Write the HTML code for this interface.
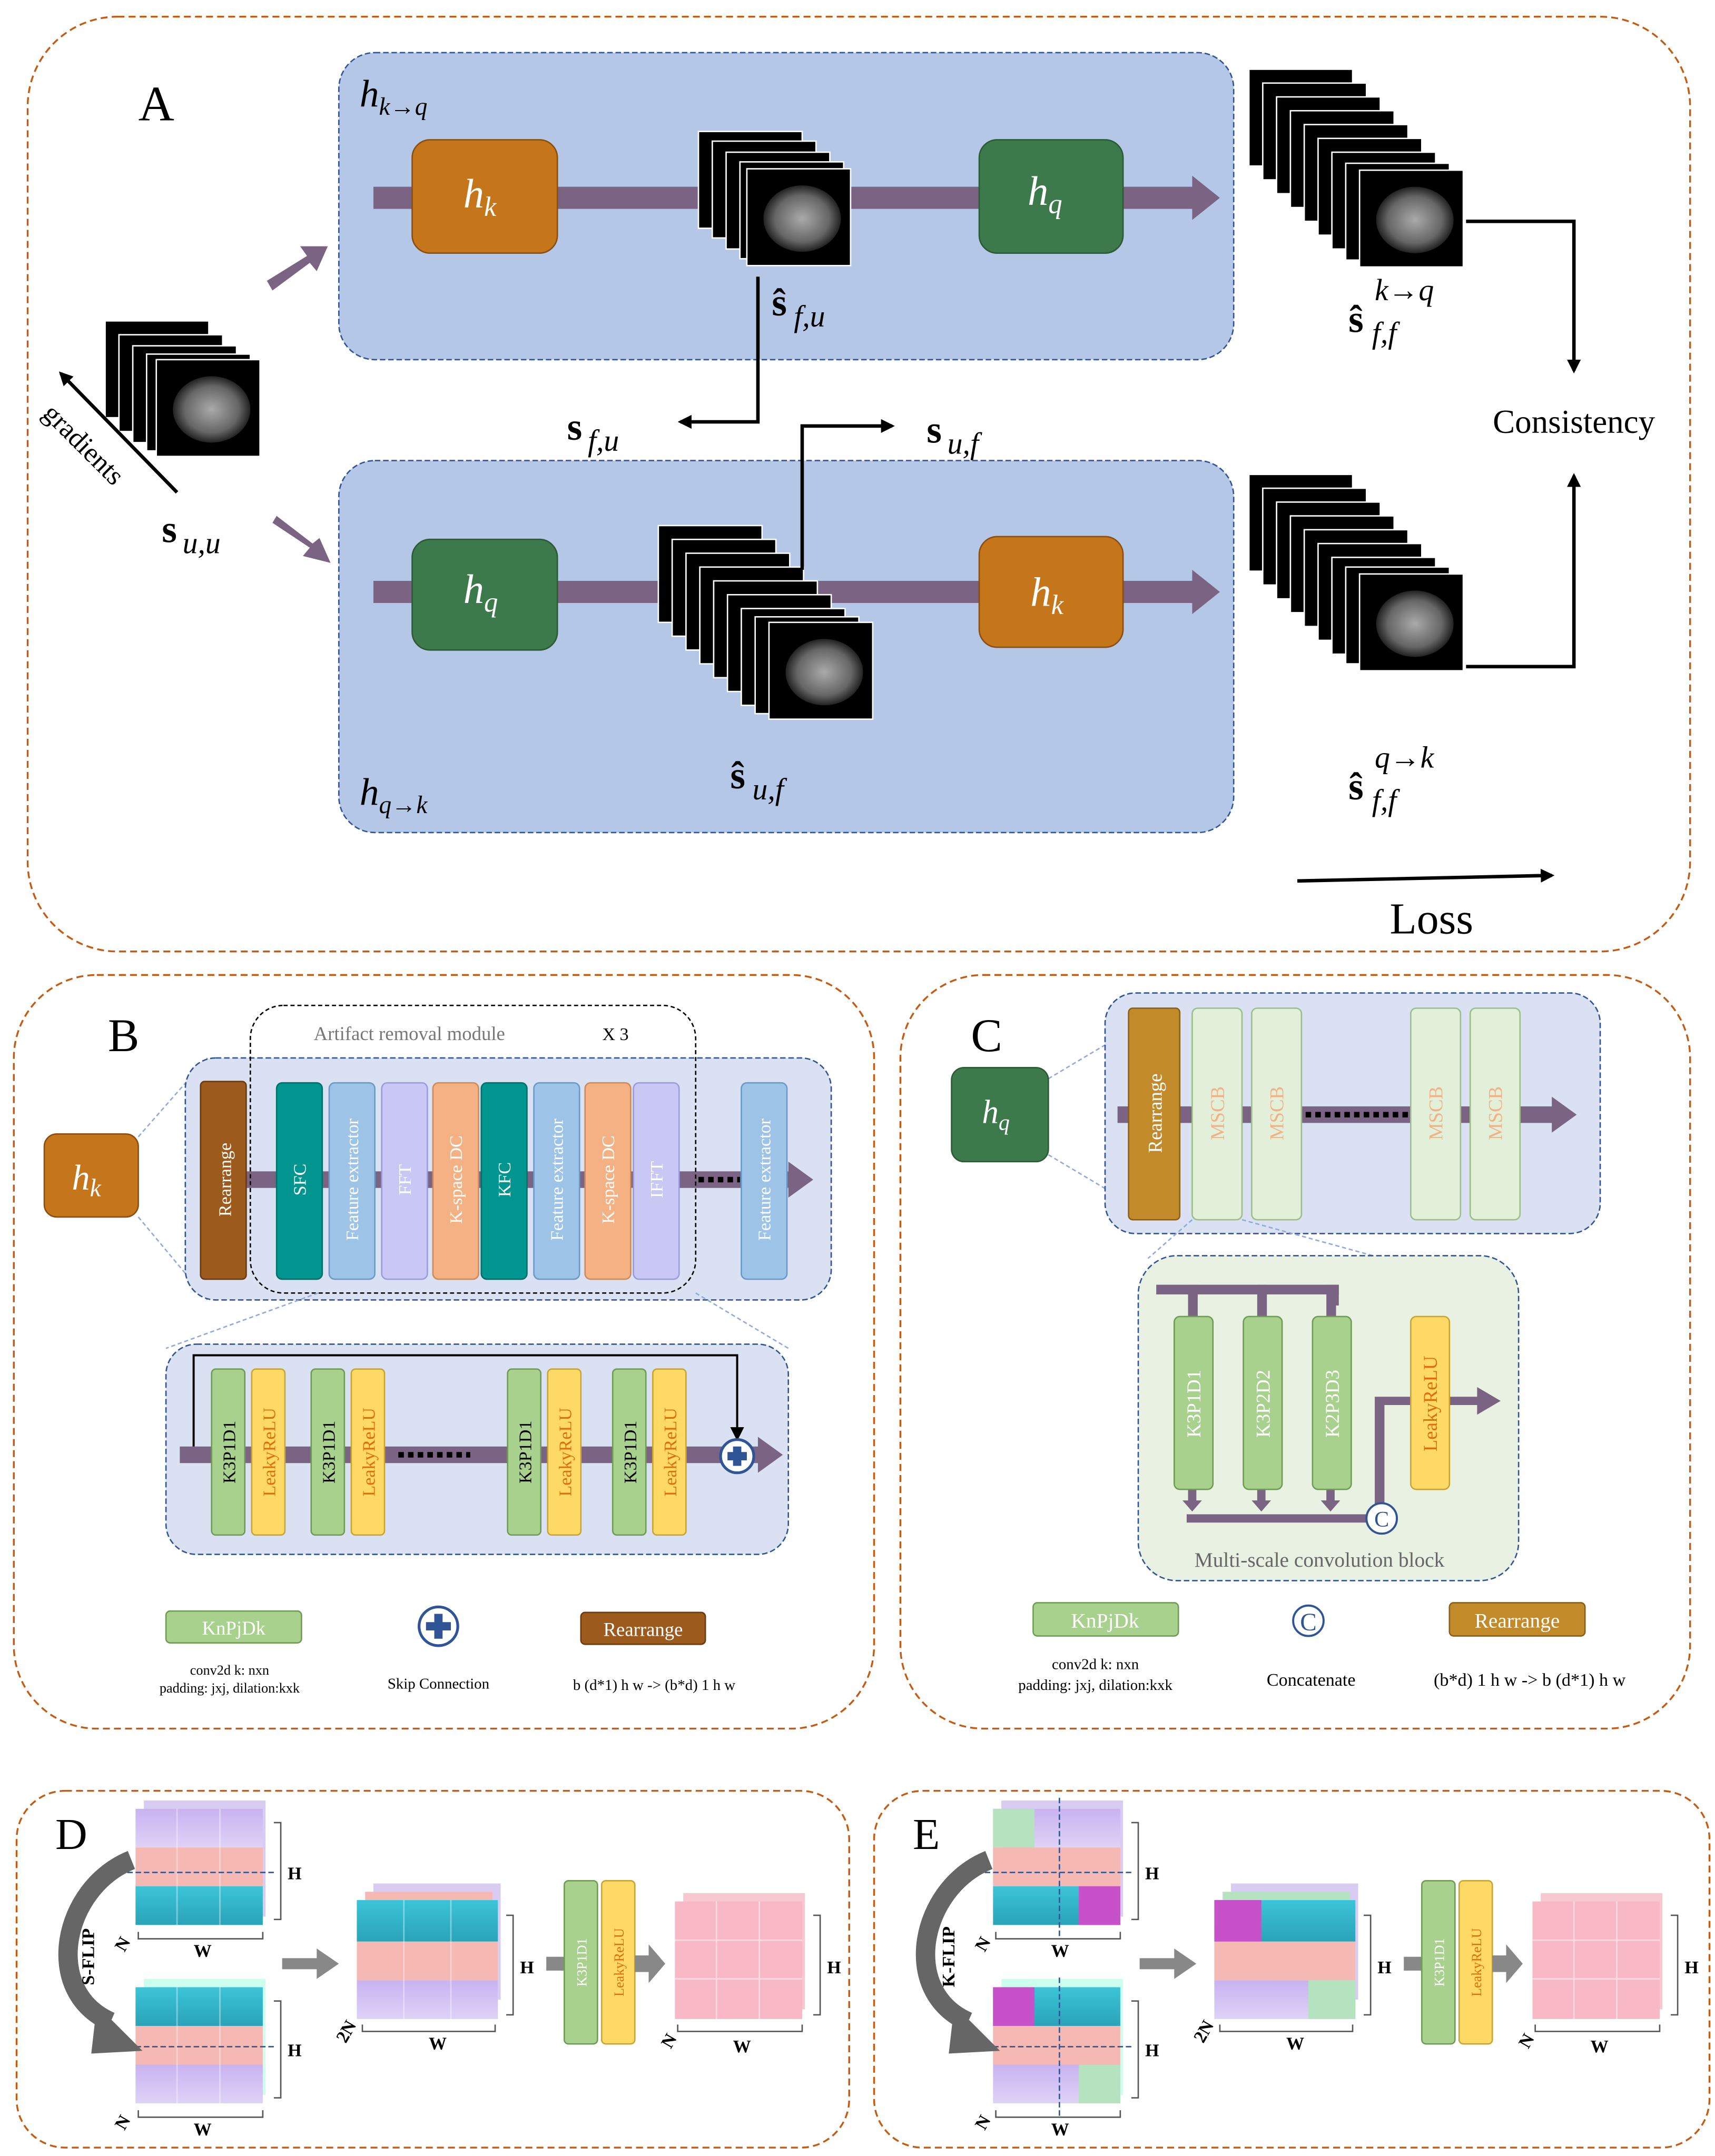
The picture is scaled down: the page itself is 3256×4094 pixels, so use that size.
<!DOCTYPE html>
<html><head><meta charset="utf-8"><style>
html,body{margin:0;padding:0;background:#fff}
svg{display:block}
text{font-family:"Liberation Serif",serif}
.w{fill:#fff}
</style></head><body>
<svg width="3256" height="4094" viewBox="0 0 1240 1559" xmlns="http://www.w3.org/2000/svg">
<defs>
<marker id="ah" markerWidth="10" markerHeight="10" refX="8" refY="5" orient="auto" markerUnits="userSpaceOnUse"><path d="M0,0 L10,5 L0,10 z" fill="#000"/></marker>
<radialGradient id="brain"><stop offset="0" stop-color="#aaa"/><stop offset="0.7" stop-color="#666"/><stop offset="1" stop-color="#222"/></radialGradient>
<g id="br"><rect width="75" height="70" fill="#000" stroke="#fff" stroke-width="1"/><ellipse cx="40" cy="36" rx="28" ry="24" fill="url(#brain)"/></g>
<linearGradient id="pu" x1="0" y1="0" x2="0" y2="1"><stop offset="0" stop-color="#c9b3f0"/><stop offset="1" stop-color="#ddd2f7"/></linearGradient>
<linearGradient id="tl" x1="0" y1="0" x2="0" y2="1"><stop offset="0" stop-color="#3cc4d8"/><stop offset="1" stop-color="#2aa3b8"/></linearGradient>
</defs>

<!-- Panel A -->
<rect x="20" y="12" width="1202" height="676" rx="65" fill="none" stroke="#c55a11" stroke-width="1.3" stroke-dasharray="5,3"/>
<text x="100" y="87" font-size="36">A</text>
<rect x="245" y="38" width="647" height="222" rx="26" fill="#b4c7e7" stroke="#2f5597" stroke-dasharray="4,2"/>
<text x="260" y="77" font-size="28" font-style="italic">h<tspan font-size="18" dy="6">k→q</tspan></text>
<path d="M270,135 H862 V127 L882,143 L862,159 V151 H270 Z" fill="#7b6483"/>
<rect x="298" y="101" width="105" height="82" rx="13" fill="#c5761b" stroke="#8a4f10"/>
<text x="335" y="150" font-size="30" font-style="italic" class="w">h<tspan font-size="20" dy="6">k</tspan></text>
<rect x="708" y="101" width="104" height="82" rx="13" fill="#3d7a4b" stroke="#2b5a35"/>
<text x="743" y="148" font-size="30" font-style="italic" class="w">h<tspan font-size="20" dy="6">q</tspan></text>
<use href="#br" x="505" y="95"/><use href="#br" x="515" y="102"/><use href="#br" x="525" y="110"/><use href="#br" x="535" y="117"/><use href="#br" x="540" y="122"/>
<text x="558" y="228" font-size="28" font-weight="bold">ŝ</text><text x="574" y="236" font-size="22" font-style="italic">f,u</text>
<use href="#br" x="903" y="50"/><use href="#br" x="913" y="60"/><use href="#br" x="923" y="70"/><use href="#br" x="933" y="80"/><use href="#br" x="943" y="90"/><use href="#br" x="953" y="100"/><use href="#br" x="963" y="110"/><use href="#br" x="973" y="118"/><use href="#br" x="983" y="123"/>
<text x="975" y="240" font-size="28" font-weight="bold">ŝ</text><text x="992" y="248" font-size="22" font-style="italic">f,f</text><text x="994" y="217" font-size="22" font-style="italic">k→q</text>

<rect x="245" y="333" width="647" height="269" rx="26" fill="#b4c7e7" stroke="#2f5597" stroke-dasharray="4,2"/>
<text x="260" y="582" font-size="28" font-style="italic">h<tspan font-size="18" dy="6">q→k</tspan></text>
<path d="M270,420 H862 V412 L882,428 L862,444 V436 H270 Z" fill="#7b6483"/>
<rect x="298" y="390" width="105" height="80" rx="13" fill="#3d7a4b" stroke="#2b5a35"/>
<text x="335" y="436" font-size="30" font-style="italic" class="w">h<tspan font-size="20" dy="6">q</tspan></text>
<rect x="708" y="388" width="104" height="80" rx="13" fill="#c5761b" stroke="#8a4f10"/>
<text x="745" y="438" font-size="30" font-style="italic" class="w">h<tspan font-size="20" dy="6">k</tspan></text>
<use href="#br" x="476" y="380"/><use href="#br" x="486" y="390"/><use href="#br" x="496" y="400"/><use href="#br" x="506" y="410"/><use href="#br" x="516" y="420"/><use href="#br" x="526" y="430"/><use href="#br" x="536" y="440"/><use href="#br" x="546" y="446"/><use href="#br" x="556" y="450"/>
<text x="528" y="570" font-size="28" font-weight="bold">ŝ</text><text x="544" y="578" font-size="22" font-style="italic">u,f</text>
<use href="#br" x="903" y="343"/><use href="#br" x="913" y="353"/><use href="#br" x="923" y="363"/><use href="#br" x="933" y="373"/><use href="#br" x="943" y="383"/><use href="#br" x="953" y="393"/><use href="#br" x="963" y="403"/><use href="#br" x="973" y="410"/><use href="#br" x="983" y="415"/>
<text x="975" y="578" font-size="28" font-weight="bold">ŝ</text><text x="992" y="586" font-size="22" font-style="italic">f,f</text><text x="994" y="555" font-size="22" font-style="italic">q→k</text>

<use href="#br" x="76" y="232"/><use href="#br" x="86" y="242"/><use href="#br" x="96" y="250"/><use href="#br" x="106" y="256"/><use href="#br" x="113" y="260"/>
<line x1="128" y1="356" x2="44" y2="270" stroke="#000" stroke-width="2.5" marker-end="url(#ah)"/>
<text x="30" y="300" font-size="20" transform="rotate(45 30 300)">gradients</text>
<text x="117" y="392" font-size="28" font-weight="bold">s</text><text x="132" y="400" font-size="22" font-style="italic">u,u</text>
<path d="M193,203 L222,185 L217,178 L237,178 L229,196 L224,190 L197,210 Z" fill="#7b6483"/>
<path d="M197,378 L224,396 L219,402 L239,407 L231,389 L226,393 L200,373 Z" fill="#7b6483"/>
<polyline points="548,200 548,305 492,305" fill="none" stroke="#000" stroke-width="2.5" marker-end="url(#ah)"/>
<text x="410" y="318" font-size="28" font-weight="bold">s</text><text x="425" y="326" font-size="22" font-style="italic">f,u</text>
<polyline points="580,412 580,308 645,308" fill="none" stroke="#000" stroke-width="2.5" marker-end="url(#ah)"/>
<text x="670" y="320" font-size="28" font-weight="bold">s</text><text x="685" y="328" font-size="22" font-style="italic">u,f</text>
<polyline points="1060,160 1138,160 1138,268" fill="none" stroke="#000" stroke-width="2.5" marker-end="url(#ah)"/>
<polyline points="1060,482 1138,482 1138,344" fill="none" stroke="#000" stroke-width="2.5" marker-end="url(#ah)"/>
<text x="1138" y="313" font-size="24" text-anchor="middle">Consistency</text>
<line x1="938" y1="637" x2="1122" y2="633" stroke="#000" stroke-width="2.5" marker-end="url(#ah)"/>
<text x="1035" y="675" font-size="32" text-anchor="middle">Loss</text>

<!-- Panel B -->
<rect x="10" y="705" width="622" height="545" rx="60" fill="none" stroke="#c55a11" stroke-width="1.3" stroke-dasharray="5,3"/>
<text x="78" y="760" font-size="34">B</text>
<line x1="100" y1="822" x2="150" y2="765" stroke="#8faadc" stroke-dasharray="3,2"/>
<line x1="100" y1="880" x2="150" y2="940" stroke="#8faadc" stroke-dasharray="3,2"/>
<rect x="32" y="820" width="68" height="60" rx="9" fill="#c5761b" stroke="#8a4f10"/>
<text x="52" y="860" font-size="26" font-style="italic" class="w">h<tspan font-size="18" dy="5">k</tspan></text>
<rect x="134" y="765" width="467" height="175" rx="22" fill="#d9e1f2" stroke="#2f5597" stroke-dasharray="4,2"/>
<path d="M178,847 H570 V840 L588,853 L570,866 V859 H178 Z" fill="#7b6483"/>
<line x1="505" y1="853" x2="535" y2="853" stroke="#000" stroke-width="4" stroke-dasharray="4,3"/>
<rect x="181" y="727" width="322" height="208" rx="24" fill="none" stroke="#000" stroke-dasharray="3,2"/>
<text x="296" y="752" font-size="14" fill="#777" text-anchor="middle">Artifact removal module</text>
<text x="445" y="752" font-size="13" text-anchor="middle">X 3</text>
<g font-size="13">
<rect x="145" y="782" width="33" height="143" rx="3" fill="#9c5a1c" stroke="#6b3a10"/><text transform="translate(167,853) rotate(-90)" text-anchor="middle" class="w">Rearrange</text>
<rect x="200" y="783" width="33" height="142" rx="4" fill="#00968f" stroke="#00706a"/><text transform="translate(221,853) rotate(-90)" text-anchor="middle" class="w">SFC</text>
<rect x="238" y="783" width="33" height="142" rx="4" fill="#9dc3e6" stroke="#6a9bc8"/><text transform="translate(259,853) rotate(-90)" text-anchor="middle" class="w">Feature extractor</text>
<rect x="276" y="783" width="33" height="142" rx="4" fill="#c9c8f5" stroke="#9c9ae0"/><text transform="translate(297,853) rotate(-90)" text-anchor="middle" class="w">FFT</text>
<rect x="313" y="783" width="33" height="142" rx="4" fill="#f4b183" stroke="#d08a58"/><text transform="translate(334,853) rotate(-90)" text-anchor="middle" class="w">K-space DC</text>
<rect x="348" y="783" width="33" height="142" rx="4" fill="#00968f" stroke="#00706a"/><text transform="translate(369,853) rotate(-90)" text-anchor="middle" class="w">KFC</text>
<rect x="386" y="783" width="33" height="142" rx="4" fill="#9dc3e6" stroke="#6a9bc8"/><text transform="translate(407,853) rotate(-90)" text-anchor="middle" class="w">Feature extractor</text>
<rect x="423" y="783" width="33" height="142" rx="4" fill="#f4b183" stroke="#d08a58"/><text transform="translate(444,853) rotate(-90)" text-anchor="middle" class="w">K-space DC</text>
<rect x="458" y="783" width="33" height="142" rx="4" fill="#c9c8f5" stroke="#9c9ae0"/><text transform="translate(479,853) rotate(-90)" text-anchor="middle" class="w">IFFT</text>
<rect x="536" y="783" width="33" height="142" rx="4" fill="#9dc3e6" stroke="#6a9bc8"/><text transform="translate(557,853) rotate(-90)" text-anchor="middle" class="w">Feature extractor</text>
</g>
<line x1="230" y1="935" x2="120" y2="975" stroke="#8faadc" stroke-dasharray="3,2"/>
<line x1="503" y1="935" x2="570" y2="975" stroke="#8faadc" stroke-dasharray="3,2"/>
<rect x="120" y="972" width="450" height="152" rx="22" fill="#d9e1f2" stroke="#2f5597" stroke-dasharray="4,2"/>
<path d="M130,1046 H548 V1039 L566,1052 L548,1065 V1058 H130 Z" fill="#7b6483"/>
<line x1="288" y1="1052" x2="340" y2="1052" stroke="#000" stroke-width="4" stroke-dasharray="4,3"/>
<polyline points="140,1046 140,980 533,980 533,1040" fill="none" stroke="#000" stroke-width="1.5" marker-end="url(#ah)"/>
<g font-size="13">
<rect x="153" y="990" width="24" height="120" rx="3" fill="#a9d18e" stroke="#6f9c55"/><text transform="translate(170,1050) rotate(-90)" text-anchor="middle">K3P1D1</text>
<rect x="182" y="990" width="24" height="120" rx="3" fill="#ffd966" stroke="#c9a530"/><text transform="translate(199,1050) rotate(-90)" text-anchor="middle" fill="#e36c0a">LeakyReLU</text>
<rect x="225" y="990" width="24" height="120" rx="3" fill="#a9d18e" stroke="#6f9c55"/><text transform="translate(242,1050) rotate(-90)" text-anchor="middle">K3P1D1</text>
<rect x="254" y="990" width="24" height="120" rx="3" fill="#ffd966" stroke="#c9a530"/><text transform="translate(271,1050) rotate(-90)" text-anchor="middle" fill="#e36c0a">LeakyReLU</text>
<rect x="367" y="990" width="24" height="120" rx="3" fill="#a9d18e" stroke="#6f9c55"/><text transform="translate(384,1050) rotate(-90)" text-anchor="middle">K3P1D1</text>
<rect x="396" y="990" width="24" height="120" rx="3" fill="#ffd966" stroke="#c9a530"/><text transform="translate(413,1050) rotate(-90)" text-anchor="middle" fill="#e36c0a">LeakyReLU</text>
<rect x="443" y="990" width="24" height="120" rx="3" fill="#a9d18e" stroke="#6f9c55"/><text transform="translate(460,1050) rotate(-90)" text-anchor="middle">K3P1D1</text>
<rect x="472" y="990" width="24" height="120" rx="3" fill="#ffd966" stroke="#c9a530"/><text transform="translate(489,1050) rotate(-90)" text-anchor="middle" fill="#e36c0a">LeakyReLU</text>
</g>
<circle cx="533" cy="1053" r="12" fill="#fff" stroke="#2f5597" stroke-width="2"/>
<path d="M526,1050 h4 v-4 h6 v4 h4 v6 h-4 v4 h-6 v-4 h-4 z" fill="#2f5597"/>
<rect x="120" y="1165" width="98" height="23" rx="3" fill="#a9d18e" stroke="#6f9c55"/>
<text x="169" y="1182" font-size="14" text-anchor="middle" class="w">KnPjDk</text>
<text x="166" y="1211" font-size="10" text-anchor="middle">conv2d k: nxn</text>
<text x="166" y="1224" font-size="10" text-anchor="middle">padding: jxj, dilation:kxk</text>
<circle cx="317" cy="1176" r="14" fill="#fff" stroke="#2f5597" stroke-width="2"/>
<path d="M308,1173 h6 v-6 h6 v6 h6 v6 h-6 v6 h-6 v-6 h-6 z" fill="#2f5597"/>
<text x="317" y="1221" font-size="11" text-anchor="middle">Skip Connection</text>
<rect x="420" y="1166" width="90" height="23" rx="3" fill="#9c5a1c" stroke="#6b3a10"/>
<text x="465" y="1183" font-size="14" text-anchor="middle" class="w">Rearrange</text>
<text x="473" y="1222" font-size="11" text-anchor="middle">b (d*1) h w -&gt; (b*d) 1 h w</text>

<!-- Panel C -->
<rect x="651" y="705" width="571" height="545" rx="60" fill="none" stroke="#c55a11" stroke-width="1.3" stroke-dasharray="5,3"/>
<text x="702" y="760" font-size="34">C</text>
<line x1="758" y1="780" x2="800" y2="755" stroke="#8faadc" stroke-dasharray="3,2"/>
<line x1="758" y1="835" x2="800" y2="860" stroke="#8faadc" stroke-dasharray="3,2"/>
<rect x="688" y="772" width="70" height="68" rx="9" fill="#3d7a4b" stroke="#2b5a35"/>
<text x="710" y="812" font-size="24" font-style="italic" class="w">h<tspan font-size="16" dy="5">q</tspan></text>
<rect x="799" y="718" width="358" height="174" rx="22" fill="#d9e1f2" stroke="#2f5597" stroke-dasharray="4,2"/>
<path d="M808,800 H1122 V793 L1140,806 L1122,819 V812 H808 Z" fill="#7b6483"/>
<line x1="944" y1="806" x2="1018" y2="806" stroke="#000" stroke-width="4" stroke-dasharray="4,3"/>
<g font-size="14">
<rect x="816" y="729" width="37" height="153" rx="3" fill="#c38a2a" stroke="#8a6018"/><text transform="translate(840,805) rotate(-90)" text-anchor="middle" class="w">Rearrange</text>
<rect x="862" y="729" width="36" height="153" rx="4" fill="#e2efd9" stroke="#9cbf87"/><text transform="translate(885,805) rotate(-90)" text-anchor="middle" fill="#f4b183">MSCB</text>
<rect x="905" y="729" width="36" height="153" rx="4" fill="#e2efd9" stroke="#9cbf87"/><text transform="translate(928,805) rotate(-90)" text-anchor="middle" fill="#f4b183">MSCB</text>
<rect x="1020" y="729" width="36" height="153" rx="4" fill="#e2efd9" stroke="#9cbf87"/><text transform="translate(1043,805) rotate(-90)" text-anchor="middle" fill="#f4b183">MSCB</text>
<rect x="1063" y="729" width="36" height="153" rx="4" fill="#e2efd9" stroke="#9cbf87"/><text transform="translate(1086,805) rotate(-90)" text-anchor="middle" fill="#f4b183">MSCB</text>
</g>
<line x1="862" y1="882" x2="830" y2="910" stroke="#8faadc" stroke-dasharray="3,2"/>
<line x1="898" y1="882" x2="1000" y2="910" stroke="#8faadc" stroke-dasharray="3,2"/>
<rect x="823" y="908" width="275" height="235" rx="28" fill="#e9f1e2" stroke="#2f5597" stroke-dasharray="4,2"/>
<g fill="#7b6483">
<rect x="836" y="929" width="132" height="7"/>
<rect x="859" y="929" width="7" height="25"/><rect x="909" y="929" width="7" height="25"/><rect x="959" y="929" width="7" height="25"/>
<rect x="961" y="929" width="7" height="15"/>
<rect x="859" y="1075" width="6" height="12"/><path d="M855,1085 h14 l-7,8 z"/>
<rect x="909" y="1075" width="6" height="12"/><path d="M905,1085 h14 l-7,8 z"/>
<rect x="959" y="1075" width="6" height="12"/><path d="M955,1085 h14 l-7,8 z"/>
<rect x="858" y="1095" width="132" height="6"/>
<path d="M994,1098 V1010 H1068 V1003 L1085,1013 L1068,1023 V1016 H1001 V1098 Z"/>
</g>
<g font-size="14">
<rect x="849" y="952" width="28" height="125" rx="4" fill="#a9d18e" stroke="#6f9c55"/><text transform="translate(868,1015) rotate(-90)" text-anchor="middle" class="w">K3P1D1</text>
<rect x="899" y="952" width="28" height="125" rx="4" fill="#a9d18e" stroke="#6f9c55"/><text transform="translate(918,1015) rotate(-90)" text-anchor="middle" class="w">K3P2D2</text>
<rect x="949" y="952" width="28" height="125" rx="4" fill="#a9d18e" stroke="#6f9c55"/><text transform="translate(968,1015) rotate(-90)" text-anchor="middle" class="w">K2P3D3</text>
<rect x="1020" y="952" width="28" height="125" rx="4" fill="#ffd966" stroke="#c9a530"/><text transform="translate(1039,1015) rotate(-90)" text-anchor="middle" fill="#e36c0a">LeakyReLU</text>
</g>
<circle cx="999" cy="1098" r="11" fill="#fff" stroke="#2f5597" stroke-width="1.5"/>
<text x="999" y="1104" font-size="16" text-anchor="middle" fill="#2f5597" font-family="Liberation Sans">C</text>
<text x="954" y="1133" font-size="15" text-anchor="middle" fill="#666">Multi-scale convolution block</text>
<rect x="747" y="1159" width="105" height="24" rx="3" fill="#a9d18e" stroke="#6f9c55"/>
<text x="799" y="1177" font-size="15" text-anchor="middle" class="w">KnPjDk</text>
<text x="792" y="1207" font-size="11" text-anchor="middle">conv2d k: nxn</text>
<text x="792" y="1222" font-size="11" text-anchor="middle">padding: jxj, dilation:kxk</text>
<circle cx="946" cy="1172" r="11" fill="#fff" stroke="#2f5597" stroke-width="1.5"/>
<text x="946" y="1179" font-size="18" text-anchor="middle" fill="#2f5597" font-family="Liberation Sans">C</text>
<text x="948" y="1219" font-size="13" text-anchor="middle">Concatenate</text>
<rect x="1048" y="1159" width="98" height="24" rx="3" fill="#c38a2a" stroke="#8a6018"/>
<text x="1097" y="1177" font-size="15" text-anchor="middle" class="w">Rearrange</text>
<text x="1106" y="1219" font-size="13" text-anchor="middle">(b*d) 1 h w -&gt; b (d*1) h w</text>

<!-- Panel D -->
<rect x="12" y="1295" width="602" height="258" rx="35" fill="none" stroke="#c55a11" stroke-width="1.3" stroke-dasharray="5,3"/>
<text x="40" y="1337" font-size="32">D</text>
<g>
<rect x="104" y="1302" width="88" height="84" fill="#d8ccf2"/>
<rect x="98" y="1308" width="92" height="28" fill="url(#pu)"/>
<rect x="98" y="1336" width="92" height="28" fill="#f6b8b2"/>
<rect x="98" y="1364" width="92" height="28" fill="url(#tl)"/>
<path d="M128,1308 V1392 M159,1308 V1392" stroke="#fff" stroke-opacity="0.4"/>
<line x1="80" y1="1354" x2="200" y2="1354" stroke="#2f5597" stroke-dasharray="4,2"/>
</g>
<g>
<rect x="104" y="1431" width="88" height="84" fill="#cfe"/>
<rect x="98" y="1437" width="92" height="28" fill="url(#tl)"/>
<rect x="98" y="1465" width="92" height="28" fill="#f6b8b2"/>
<rect x="98" y="1493" width="92" height="28" fill="url(#pu)"/>
<path d="M128,1437 V1521 M159,1437 V1521" stroke="#fff" stroke-opacity="0.4"/>
<line x1="80" y1="1480" x2="200" y2="1480" stroke="#2f5597" stroke-dasharray="4,2"/>
</g>
<g font-size="13" font-weight="bold">
<path d="M198,1318 h5 v70 h-5 M100,1397 v5 h90 v-5 M198,1447 h5 v70 h-5 M100,1526 v5 h90 v-5" fill="none" stroke="#555"/>
<text x="208" y="1359" font-family="Liberation Sans">H</text><text x="140" y="1415" font-family="Liberation Sans">W</text><text x="90" y="1412" transform="rotate(-60 90 1412)" font-family="Liberation Sans">N</text>
<text x="208" y="1487" font-family="Liberation Sans">H</text><text x="140" y="1544" font-family="Liberation Sans">W</text><text x="90" y="1541" transform="rotate(-60 90 1541)" font-family="Liberation Sans">N</text>
</g>
<path d="M95,1345 C45,1365 30,1440 80,1462" fill="none" stroke="#666" stroke-width="14"/>
<path d="M70,1450 L103,1483 L66,1485 Z" fill="#666"/>
<text x="68" y="1415" font-size="13" font-weight="bold" font-family="Liberation Sans" transform="rotate(-90 68 1415)" text-anchor="middle">S-FLIP</text>
<path d="M204,1416 h25 v-7 l16,11 l-16,11 v-7 h-25 z" fill="#888"/>
<g>
<rect x="270" y="1362" width="92" height="84" fill="#d8ccf2"/>
<rect x="264" y="1368" width="92" height="84" fill="#f6b8b2"/>
<rect x="258" y="1374" width="102" height="86" fill="#eee"/>
<rect x="258" y="1374" width="102" height="30" fill="url(#tl)"/>
<rect x="258" y="1404" width="102" height="28" fill="#f6b8b2"/>
<rect x="258" y="1432" width="102" height="28" fill="url(#pu)"/>
<path d="M292,1374 V1460 M326,1374 V1460" stroke="#fff" stroke-opacity="0.4"/>
<path d="M366,1385 h5 v72 h-5 M262,1464 v5 h96 v-5" fill="none" stroke="#555"/>
<text x="376" y="1427" font-size="13" font-weight="bold" font-family="Liberation Sans">H</text>
<text x="310" y="1482" font-size="13" font-weight="bold" font-family="Liberation Sans">W</text>
<text x="250" y="1478" font-size="13" font-weight="bold" font-family="Liberation Sans" transform="rotate(-60 250 1478)">2N</text>
</g>
<rect x="395" y="1415" width="13" height="10" fill="#888"/>
<rect x="408" y="1360" width="24" height="118" rx="3" fill="#a9d18e" stroke="#6f9c55"/>
<text transform="translate(424,1419) rotate(-90)" font-size="10" text-anchor="middle" class="w">K3P1D1</text>
<rect x="435" y="1360" width="24" height="118" rx="3" fill="#ffd966" stroke="#c9a530"/>
<text transform="translate(451,1419) rotate(-90)" font-size="10" text-anchor="middle" fill="#e36c0a">LeakyReLU</text>
<path d="M459,1414 h10 v-8 l12,14 l-12,14 v-8 h-10 z" fill="#888"/>
<g>
<rect x="494" y="1369" width="88" height="84" fill="#f8c8d0"/>
<rect x="488" y="1375" width="92" height="85" fill="#f9b8c6"/>
<path d="M518,1375 V1460 M549,1375 V1460 M488,1403 H580 M488,1431 H580" stroke="#fff" stroke-opacity="0.5"/>
<path d="M588,1385 h5 v72 h-5 M490,1464 v5 h90 v-5" fill="none" stroke="#555"/>
<text x="598" y="1427" font-size="13" font-weight="bold" font-family="Liberation Sans">H</text>
<text x="530" y="1484" font-size="13" font-weight="bold" font-family="Liberation Sans">W</text>
<text x="485" y="1482" font-size="13" font-weight="bold" font-family="Liberation Sans" transform="rotate(-60 485 1482)">N</text>
</g>

<!-- Panel E -->
<rect x="632" y="1295" width="604" height="258" rx="35" fill="none" stroke="#c55a11" stroke-width="1.3" stroke-dasharray="5,3"/>
<text x="660" y="1337" font-size="32">E</text>
<g>
<rect x="724" y="1302" width="88" height="84" fill="#d8ccf2"/>
<rect x="718" y="1308" width="92" height="28" fill="url(#pu)"/>
<rect x="718" y="1308" width="30" height="28" fill="#b5e3c0"/>
<rect x="718" y="1336" width="92" height="28" fill="#f6b8b2"/>
<rect x="718" y="1364" width="92" height="28" fill="url(#tl)"/>
<rect x="780" y="1364" width="30" height="28" fill="#c651c8"/>
<line x1="700" y1="1354" x2="820" y2="1354" stroke="#2f5597" stroke-dasharray="4,2"/>
<line x1="766" y1="1300" x2="766" y2="1400" stroke="#2f5597" stroke-dasharray="4,2"/>
</g>
<g>
<rect x="724" y="1431" width="88" height="84" fill="#cfe"/>
<rect x="718" y="1437" width="92" height="28" fill="url(#tl)"/>
<rect x="718" y="1437" width="30" height="28" fill="#c651c8"/>
<rect x="718" y="1465" width="92" height="28" fill="#f6b8b2"/>
<rect x="718" y="1493" width="92" height="28" fill="url(#pu)"/>
<rect x="780" y="1493" width="30" height="28" fill="#b5e3c0"/>
<line x1="700" y1="1480" x2="820" y2="1480" stroke="#2f5597" stroke-dasharray="4,2"/>
<line x1="766" y1="1430" x2="766" y2="1530" stroke="#2f5597" stroke-dasharray="4,2"/>
</g>
<g font-size="13" font-weight="bold">
<path d="M818,1318 h5 v70 h-5 M720,1397 v5 h90 v-5 M818,1447 h5 v70 h-5 M720,1526 v5 h90 v-5" fill="none" stroke="#555"/>
<text x="828" y="1359" font-family="Liberation Sans">H</text><text x="760" y="1415" font-family="Liberation Sans">W</text><text x="712" y="1412" transform="rotate(-60 712 1412)" font-family="Liberation Sans">N</text>
<text x="828" y="1487" font-family="Liberation Sans">H</text><text x="760" y="1544" font-family="Liberation Sans">W</text><text x="712" y="1541" transform="rotate(-60 712 1541)" font-family="Liberation Sans">N</text>
</g>
<path d="M715,1345 C665,1365 650,1440 700,1462" fill="none" stroke="#666" stroke-width="14"/>
<path d="M690,1450 L723,1483 L686,1485 Z" fill="#666"/>
<text x="690" y="1415" font-size="13" font-weight="bold" font-family="Liberation Sans" transform="rotate(-90 690 1415)" text-anchor="middle">K-FLIP</text>
<path d="M824,1416 h25 v-7 l16,11 l-16,11 v-7 h-25 z" fill="#888"/>
<g>
<rect x="890" y="1362" width="92" height="84" fill="#d8ccf2"/>
<rect x="884" y="1368" width="92" height="84" fill="#b5e3c0"/>
<rect x="878" y="1374" width="102" height="86" fill="#eee"/>
<rect x="878" y="1374" width="102" height="30" fill="url(#tl)"/>
<rect x="878" y="1374" width="34" height="30" fill="#c651c8"/>
<rect x="878" y="1404" width="102" height="28" fill="#f6b8b2"/>
<rect x="878" y="1432" width="102" height="28" fill="url(#pu)"/>
<rect x="946" y="1432" width="34" height="28" fill="#b5e3c0"/>
<path d="M986,1385 h5 v72 h-5 M882,1464 v5 h96 v-5" fill="none" stroke="#555"/>
<text x="996" y="1427" font-size="13" font-weight="bold" font-family="Liberation Sans">H</text>
<text x="930" y="1482" font-size="13" font-weight="bold" font-family="Liberation Sans">W</text>
<text x="870" y="1478" font-size="13" font-weight="bold" font-family="Liberation Sans" transform="rotate(-60 870 1478)">2N</text>
</g>
<rect x="1015" y="1415" width="13" height="10" fill="#888"/>
<rect x="1028" y="1360" width="24" height="118" rx="3" fill="#a9d18e" stroke="#6f9c55"/>
<text transform="translate(1044,1419) rotate(-90)" font-size="10" text-anchor="middle" class="w">K3P1D1</text>
<rect x="1055" y="1360" width="24" height="118" rx="3" fill="#ffd966" stroke="#c9a530"/>
<text transform="translate(1071,1419) rotate(-90)" font-size="10" text-anchor="middle" fill="#e36c0a">LeakyReLU</text>
<path d="M1079,1414 h10 v-8 l12,14 l-12,14 v-8 h-10 z" fill="#888"/>
<g>
<rect x="1114" y="1369" width="88" height="84" fill="#f8c8d0"/>
<rect x="1108" y="1375" width="92" height="85" fill="#f9b8c6"/>
<path d="M1138,1375 V1460 M1169,1375 V1460 M1108,1403 H1200 M1108,1431 H1200" stroke="#fff" stroke-opacity="0.5"/>
<path d="M1208,1385 h5 v72 h-5 M1110,1464 v5 h90 v-5" fill="none" stroke="#555"/>
<text x="1218" y="1427" font-size="13" font-weight="bold" font-family="Liberation Sans">H</text>
<text x="1150" y="1484" font-size="13" font-weight="bold" font-family="Liberation Sans">W</text>
<text x="1105" y="1482" font-size="13" font-weight="bold" font-family="Liberation Sans" transform="rotate(-60 1105 1482)">N</text>
</g>
</svg>
</body></html>
